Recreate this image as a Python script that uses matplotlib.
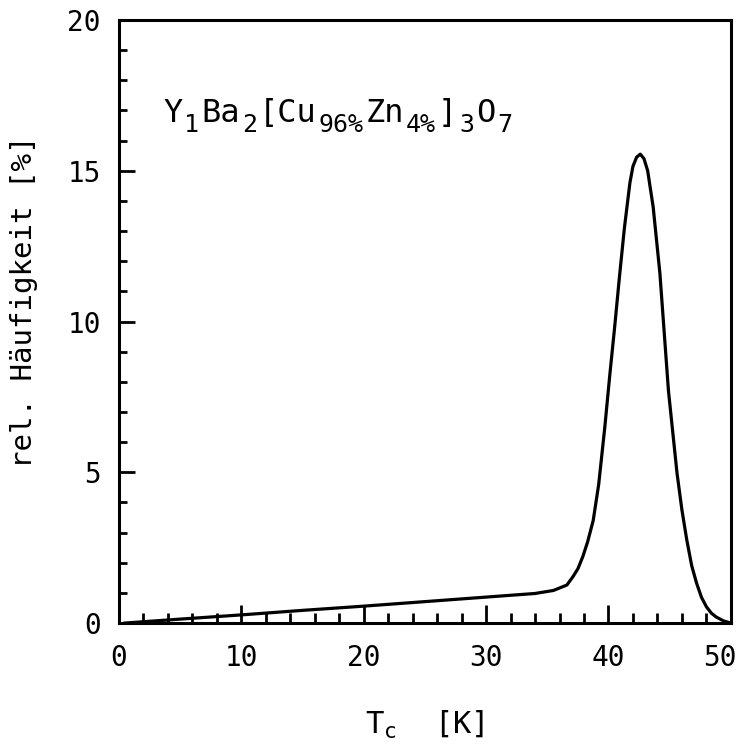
import matplotlib
matplotlib.use("Agg")
import matplotlib.pyplot as plt
from matplotlib.ticker import MultipleLocator
from matplotlib.transforms import ScaledTranslation

MONO = 'DejaVu Sans Mono'
plt.rcParams['font.family'] = [MONO, 'DejaVu Sans']
plt.rcParams['mathtext.fontset'] = 'custom'
plt.rcParams['mathtext.rm'] = MONO
plt.rcParams['mathtext.it'] = MONO

# Data
tc = [0.5, 5, 10, 15, 20, 25, 30, 34, 35.5, 36.6, 37.1, 37.5, 37.9, 38.3, 38.75,
      39.2, 39.7, 40.1, 40.5, 40.9, 41.3, 41.75, 42.0, 42.3, 42.6, 42.9, 43.2,
      43.65, 44.2, 44.9, 45.6, 46.0, 46.4, 46.8, 47.2, 47.6, 48.0, 48.4, 48.8,
      49.4, 50]
freq = [0.0, 0.13, 0.27, 0.42, 0.56, 0.71, 0.86, 0.98, 1.08, 1.26, 1.54, 1.8,
        2.2, 2.7, 3.4, 4.6, 6.5, 8.2, 9.8, 11.5, 13.1, 14.6, 15.15, 15.45, 15.55,
        15.4, 15.0, 13.8, 11.6, 7.7, 4.97, 3.75, 2.75, 1.9, 1.32, 0.85, 0.54,
        0.33, 0.2, 0.07, 0.0]
xticks = [0, 10, 20, 30, 40, 50]
yticks = [0, 5, 10, 15, 20]
formula = [('Y', False), ('1', True), ('Ba', False), ('2', True), ('[Cu', False),
           ('96%', True), ('Zn', False), ('4%', True), (']', False), ('3', True),
           ('O', False), ('7', True)]

fig = plt.figure(figsize=(7.39, 7.51), dpi=100)
ax = fig.add_axes([0.161, 0.1704, 0.828, 0.803])
ax.plot(tc, freq, color='black', lw=2.3, solid_joinstyle='round')
ax.set_xlim(0, 50)
ax.set_ylim(0, 20)
ax.set_xticks(xticks)
ax.set_yticks(yticks)
ax.xaxis.set_minor_locator(MultipleLocator(2))
ax.yaxis.set_minor_locator(MultipleLocator(1))
for s in ax.spines.values():
    s.set_linewidth(2.2)
ax.tick_params(axis='x', which='major', direction='in', length=13, width=2,
               labelsize=20, pad=15)
ax.tick_params(axis='x', which='minor', direction='in', length=7, width=2)
ax.tick_params(axis='y', which='major', direction='in', length=11.5, width=2,
               labelsize=20, pad=13)
ax.tick_params(axis='y', which='minor', direction='in', length=5.5, width=2)

# shift last x tick label slightly left so it stays inside the figure
fig.canvas.draw()
last = ax.get_xticklabels()[-1]
last.set_transform(last.get_transform() + ScaledTranslation(-11/100, 0, fig.dpi_scale_trans))

ax.set_ylabel('rel. Häufigkeit [%]', fontsize=21, va='center')
ax.yaxis.set_label_coords(-0.156, 0.532)
ax.set_xlabel(r'T$_\mathrm{c}$  [K]', fontsize=22, va='center')
ax.xaxis.set_label_coords(0.5, -0.169)

# formula built from pieces with large subscripts, as in the plotter font
renderer = fig.canvas.get_renderer()
W, H = fig.bbox.width, fig.bbox.height
x = 163.0
base = H - 122.0
for txt, sub in formula:
    if sub:
        t = fig.text(x / W, (base - 10) / H, txt, fontsize=18, ha='left', va='baseline')
    else:
        t = fig.text(x / W, base / H, txt, fontsize=23, ha='left', va='baseline')
    bb = t.get_window_extent(renderer)
    x = bb.x1 + 2

fig.savefig('out.png', dpi=100)
